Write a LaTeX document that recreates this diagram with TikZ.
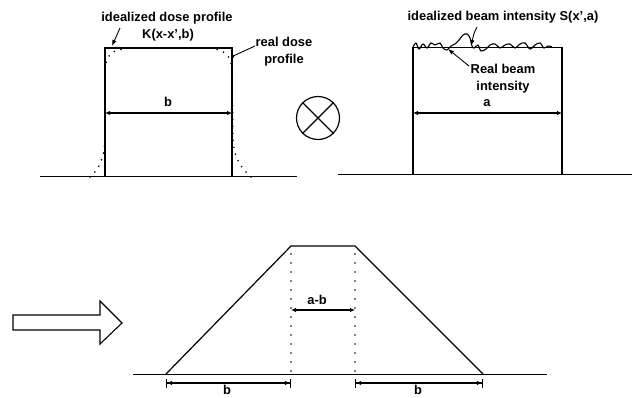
\documentclass[tikz,border=0pt]{standalone}
\usepackage{fontspec}
\setmainfont{Liberation Sans}
\usetikzlibrary{arrows.meta}
\begin{document}
\begin{tikzpicture}[x=1pt,y=-1pt,
  lbl/.style={font=\fontsize{12.9}{17}\selectfont\bfseries, inner sep=0pt, align=center},
  prof/.style={line width=1.4pt},
  thin/.style={line width=0.9pt},
  dim/.style={line width=1.1pt, {Latex[length=5pt,width=4.5pt]}-{Latex[length=5pt,width=4.5pt]}},
  bardim/.style={line width=1.1pt, {Bar[width=9pt,line width=1.1pt]Latex[length=5pt,width=4.5pt]}-{Latex[length=5pt,width=4.5pt]Bar[width=9pt,line width=1.1pt]}},
  ptr/.style={line width=0.9pt, -{Latex[length=6pt,width=4.5pt]}},
  dots/.style={line width=1.8pt, line cap=round, dash pattern=on 0pt off 7pt},
  vdots/.style={line width=1.6pt, line cap=round, dash pattern=on 0pt off 9pt}
]
\useasboundingbox (0,0) rectangle (634,397);

% ---------------- top left: dose profile ----------------
\coordinate (bl1) at (105,176);
\coordinate (tl1) at (105,48);
\coordinate (tr1) at (232,48);
\coordinate (br1) at (232,176);
\coordinate (base1a) at (40,176);
\coordinate (base1b) at (297,176);
\draw[thin] (base1a) -- (base1b);
% real dose profile (dotted)
\draw[dots] (90,177) .. controls (100,168) and (104,158) .. (105,140)
  -- (105,70) .. controls (106,55) and (112,50) .. (124,49);
\draw[dots] (251,177) .. controls (241,168) and (234,158) .. (233,140)
  -- (232,70) .. controls (231,56) and (226,51) .. (214,49);
\draw[prof] (bl1) -- (tl1) -- (tr1) -- (br1);
\coordinate (bdl) at (105,113);
\coordinate (bdr) at (232,113);
\draw[dim] (bdl) -- (bdr);
\node[lbl] (blab) at (168,102) {b};

\node[lbl] (idp) at (167,18) {idealized dose profile};
\node[lbl] (kx) at (168,35) {K(x-x',b)};
\coordinate (idpTip) at (112,46);
\draw[ptr] (120,28) -- (idpTip);
\node[lbl] (rdp) at (284,52) {real dose\\profile};
\coordinate (rdpTip) at (231,57);
\draw[line width=0.9pt, -{Circle[length=3.5pt]}] (255,46) -- (rdpTip);

% ---------------- convolution symbol ----------------
\node[draw, circle, line width=1.2pt, minimum size=43pt, inner sep=0pt] (conv) at (318,118) {};
\draw[line width=1.2pt] (conv.45) -- (conv.225);
\draw[line width=1.2pt] (conv.135) -- (conv.315);

% ---------------- top right: beam intensity ----------------
\coordinate (bl2) at (413,174);
\coordinate (tl2) at (413,47);
\coordinate (tr2) at (562,47);
\coordinate (br2) at (562,174);
\coordinate (base2a) at (338,174);
\coordinate (base2b) at (632,174);
\draw[thin] (base2a) -- (base2b);
\draw[prof] (bl2) -- (tl2);
\draw[prof] (tr2) -- (br2);
\draw[thin] (tl2) -- (tr2);
\draw[line width=1.1pt] plot[smooth, tension=0.6] coordinates {
 (413,47) (416,43) (419,49) (423,44) (427,48) (431,43) (435,45) (440,43)
 (443,48) (447,50) (451,46) (455,44) (459,40) (463,35) (467,34) (470,38)
 (472,46) (474,48) (478,45) (481,51) (486,49) (490,45) (495,44) (500,48)
 (505,45) (510,44) (515,48) (520,44) (525,43) (530,49) (535,45) (540,43)
 (544,48) (548,46) (552,47)};
\coordinate (adl) at (413,113);
\coordinate (adr) at (562,113);
\draw[dim] (adl) -- (adr);
\node[lbl] (alab) at (487,103) {a};
\node[lbl] (ibi) at (503,17) {idealized beam intensity S(x',a)};
\coordinate (ibiTip) at (471,46);
\draw[ptr] (477,27) .. controls (474,33) .. (ibiTip);
\node[lbl] (rbi) at (503,79) {Real beam\\intensity};
\coordinate (rbiTip) at (448,49);
\draw[ptr] (469,66) -- (rbiTip);

% ---------------- hollow arrow ----------------
\draw[line width=1.1pt, line join=miter] (13,315) -- (100,315) -- (100,301) -- (122,323)
  -- (100,344) -- (100,330) -- (13,330) -- cycle;

% ---------------- bottom: resulting trapezoid ----------------
\coordinate (base3a) at (133,374);
\coordinate (base3b) at (547,374);
\coordinate (t1) at (166,374);
\coordinate (t2) at (291,246);
\coordinate (t3) at (355,246);
\coordinate (t4) at (483,374);
\coordinate (d2) at (291,374);
\coordinate (d3) at (355,374);
\draw[thin] (base3a) -- (base3b);
\draw[line width=1.2pt, line join=miter] (t1) -- (t2) -- (t3) -- (t4);
\draw[vdots] (t2) ++(0,8) -- (d2);
\draw[vdots] (t3) ++(0,8) -- (d3);
\coordinate (abl) at (291,310);
\coordinate (abr) at (355,310);
\draw[dim] (abl) -- (abr);
\node[lbl] (ablab) at (317,300) {a-b};
\coordinate (b1l) at (166,383);
\coordinate (b1r) at (291,383);
\coordinate (b2l) at (355,383);
\coordinate (b2r) at (483,383);
\draw[bardim] (b1l) -- (b1r);
\draw[bardim] (b2l) -- (b2r);
\node[lbl, anchor=base] (b1lab) at (227,394.5) {b};
\node[lbl, anchor=base] (b2lab) at (418,394.5) {b};
\end{tikzpicture}
\end{document}
